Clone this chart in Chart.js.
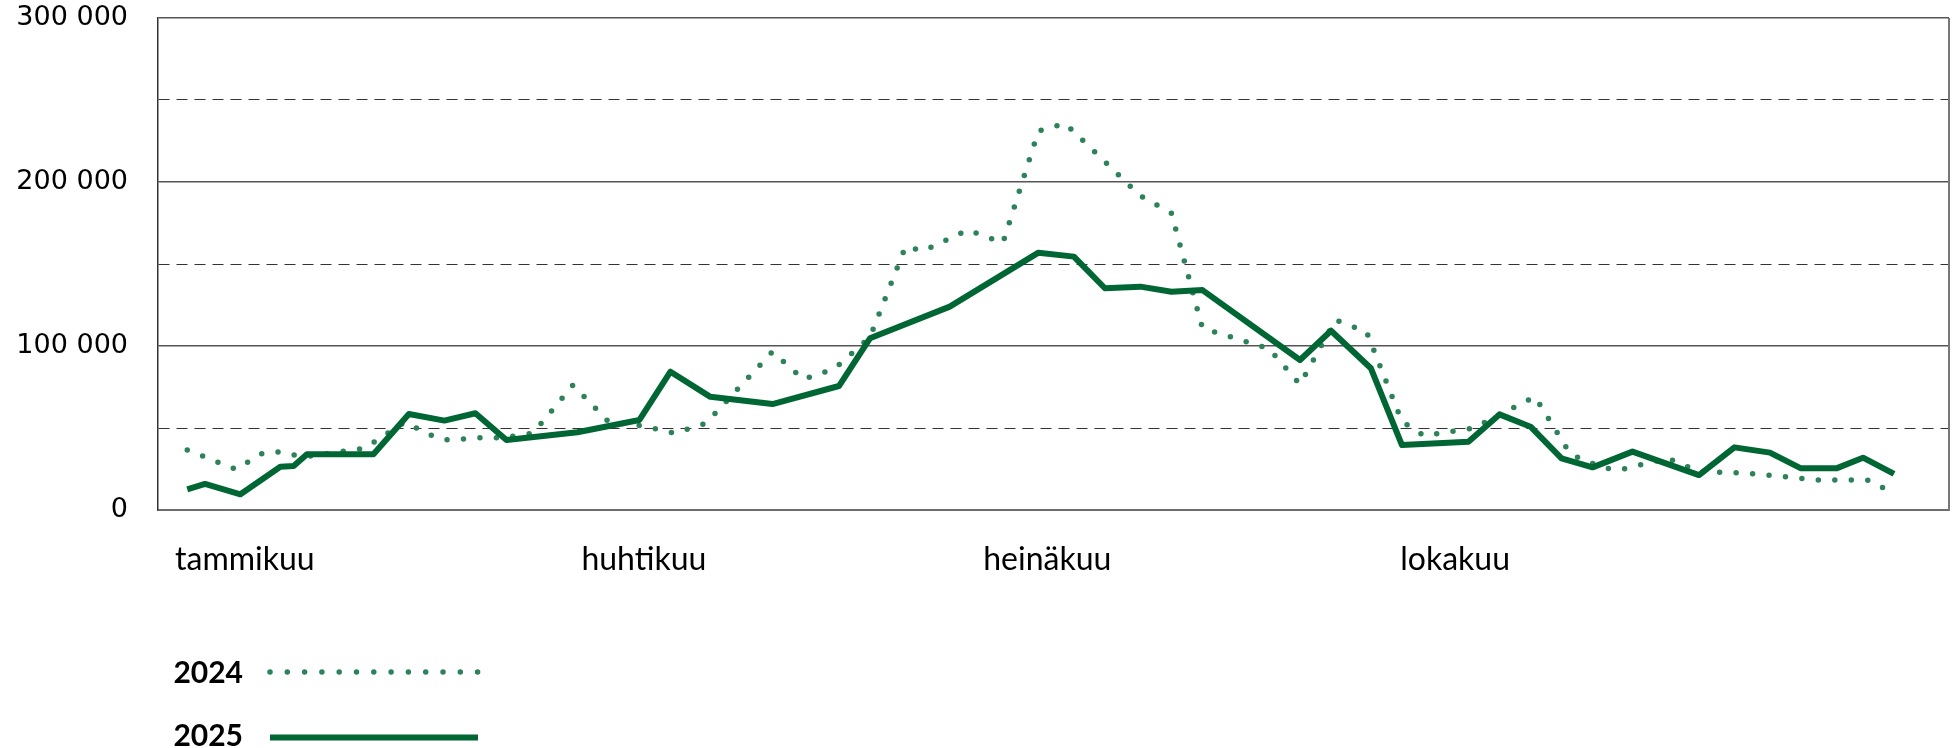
<!DOCTYPE html>
<html lang="fi">
<head>
<meta charset="utf-8">
<script src="https://cdn.jsdelivr.net/npm/chart.js@4"></script>
<style>
  html, body { margin: 0; padding: 0; background: #fff; }
  #wrap { position: relative; width: 1955px; height: 748px; overflow: hidden; }
  #c { position: absolute; left: 0; top: 0; }
  .lg { position: absolute; left: 0; width: 243px; text-align: right;
        font-family: Lato, sans-serif; font-weight: 700; font-size: 30px; line-height: 30px; color: #000; }
  #samples { position: absolute; left: 0; top: 0; pointer-events: none; }
</style>
</head>
<body>
<div id="wrap">
  <canvas id="c" width="1955" height="748"></canvas>
  <div class="lg" style="top:656px">2024</div>
  <div class="lg" style="top:719px">2025</div>
  <svg id="samples" width="1955" height="748">
    <line x1="270" y1="672" x2="478" y2="672" stroke="#2d8259" stroke-width="5.5" stroke-linecap="round" stroke-dasharray="0 17.3"/>
    <line x1="270" y1="737.5" x2="478" y2="737.5" stroke="#006633" stroke-width="6"/>
  </svg>
</div>
<script>
// x values: days relative to 1 January
const monthTickDays = [0, 90, 181, 273];
const monthLabels = ['tammikuu', 'huhtikuu', 'heinäkuu', 'lokakuu'];

const days2024 = [-13, -2, 4, 8, 12, 15, 27, 36, 43, 46, 54, 58, 65, 74, 82, 90, 97, 104, 119, 126,
  133, 141, 149, 153, 163, 171, 179, 185, 202, 209, 216, 231, 238, 246, 253, 261, 266, 277, 291, 299,
  306, 310, 321, 328, 339, 355, 366, 372];
const values2024 = [36600, 24800, 34600, 35500, 33000, 33000, 37600, 53500, 44300, 42700, 44300, 44000, 46800, 76200, 53900, 51200, 46800, 52900, 96500, 79700,
  86200, 105300, 160500, 158000, 170700, 163000, 231100, 235800, 191500, 181000, 110800, 98400, 76600, 115900, 108700, 54000, 45300, 49800, 69100, 34100,
  26000, 24400, 31500, 23400, 22400, 18300, 18300, 10200];

const days2025 = [-13, -9, -1, 8, 11, 14, 29, 37, 45, 52, 59, 75, 89, 96, 105, 119, 134, 141, 159, 179,
  187, 194, 202, 209, 216, 238, 245, 254, 261, 276, 283, 290, 297, 304, 313, 328, 336, 344, 351, 359,
  365, 372];
const values2025 = [12600, 15900, 9600, 26400, 26800, 34000, 34000, 58500, 54500, 59000, 42700, 47400, 54900, 84300, 69000, 64600, 75600, 104700, 124000, 156900,
  154500, 135200, 136200, 133100, 134100, 91500, 109300, 86400, 39600, 41600, 58300, 50800, 31500, 26000, 35600, 21300, 38200, 35000, 25400, 25400,
  31900, 22000];

const yLabeled = [0, 100000, 200000, 300000];

function pts(xs, ys) { return xs.map((x, i) => ({ x: x, y: ys[i] })); }
function fmt(v) { return String(v).replace(/\B(?=(\d{3})+(?!\d))/g, ' '); }

const frame = {
  id: 'frame',
  afterDraw(chart) {
    const { ctx, chartArea: a } = chart;
    ctx.save();
    ctx.strokeStyle = '#777';
    ctx.lineWidth = 2;
    ctx.beginPath();
    ctx.moveTo(a.right, a.top);
    ctx.lineTo(a.right, a.bottom + 1);
    ctx.stroke();
    ctx.restore();
  }
};

function build() {
  new Chart(document.getElementById('c'), {
    type: 'line',
    data: {
      datasets: [
        {
          label: '2025',
          data: pts(days2025, values2025),
          borderColor: '#006633',
          borderWidth: 6,
          borderJoinStyle: 'round',
          borderCapStyle: 'butt',
          pointRadius: 0,
          tension: 0,
          order: 1
        },
        {
          label: '2024',
          data: pts(days2024, values2024),
          borderColor: '#2d8259',
          borderWidth: 5.5,
          borderDash: [0, 16.5],
          borderCapStyle: 'round',
          borderJoinStyle: 'round',
          pointRadius: 0,
          tension: 0,
          order: 2
        }
      ]
    },
    options: {
      responsive: false,
      animation: false,
      devicePixelRatio: 1,
      layout: { padding: { top: 18, right: 6, left: 0, bottom: 0 } },
      plugins: { legend: { display: false }, tooltip: { enabled: false } },
      scales: {
        x: {
          type: 'linear',
          min: -19.6,
          max: 384.4,
          afterFit(s) { s.height = 238; },
          afterBuildTicks(s) { s.ticks = monthTickDays.map(v => ({ value: v })); },
          grid: { display: false, drawTicks: false },
          border: { display: true, color: '#6e6e6e', width: 2 },
          ticks: {
            autoSkip: false,
            maxRotation: 0,
            padding: 30,
            color: '#000',
            font: { family: 'Lato', size: 32 },
            callback(v) { const i = monthTickDays.indexOf(v); return i >= 0 ? monthLabels[i] : ''; }
          }
        },
        y: {
          min: 0,
          max: 300000,
          afterFit(s) { s.width = 158; },
          grid: {
            drawTicks: true,
            tickLength: 30,
            tickColor: 'rgba(0,0,0,0)',
            color: ctx => (ctx.tick && yLabeled.includes(ctx.tick.value)) ? '#555' : '#333',
            lineWidth: ctx => (ctx.tick && yLabeled.includes(ctx.tick.value)) ? 1.5 : 1
          },
          border: {
            display: true,
            color: '#333',
            width: 1.5,
            dash: ctx => (ctx.tick && !yLabeled.includes(ctx.tick.value)) ? [11, 7] : []
          },
          ticks: {
            stepSize: 50000,
            padding: 0,
            color: '#000',
            font: { family: 'DejaVu Sans', size: 27 },
            callback(v) { return yLabeled.includes(v) ? fmt(v) : ''; }
          }
        }
      }
    },
    plugins: [frame]
  });
}

Promise.all([
  document.fonts.load('32px Lato'),
  document.fonts.load('bold 30px Lato'),
  document.fonts.load('27px "DejaVu Sans"')
]).then(build, build);
</script>
</body>
</html>
